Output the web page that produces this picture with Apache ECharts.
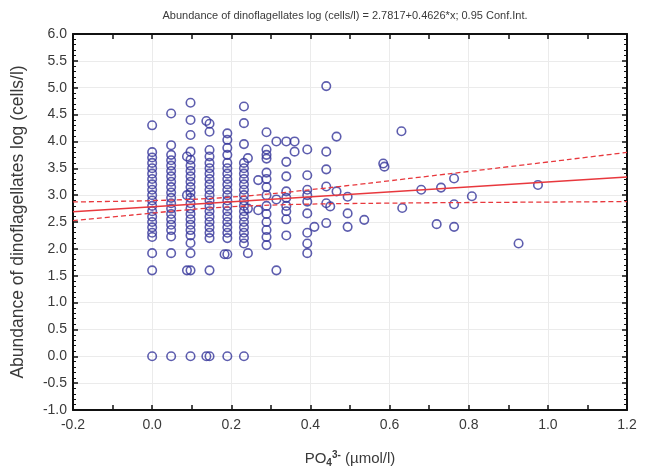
<!DOCTYPE html>
<html>
<head>
<meta charset="utf-8">
<script src="https://cdn.jsdelivr.net/npm/echarts@6/dist/echarts.min.js"></script>
<style>html,body{margin:0;padding:0;background:#fff}#c{width:647px;height:471px}</style>
</head>
<body>
<div id="c"></div>
<script>
// Columns of observations: x position (PO4 µmol/l) and log abundance values
const colX = [0.0, 0.048, 0.097, 0.145, 0.19, 0.232, 0.289, 0.339, 0.392, 0.44];
const colY = [
  [4.3, 3.8, 3.7, 3.6, 3.5, 3.4, 3.3, 3.2, 3.1, 3.0, 2.9, 2.8, 2.7, 2.6, 2.5, 2.4, 2.3, 2.22, 1.92, 1.6, 0],
  [4.52, 3.93, 3.75, 3.65, 3.55, 3.45, 3.35, 3.25, 3.15, 3.05, 2.95, 2.85, 2.75, 2.65, 2.55, 2.45, 2.35, 2.23, 1.92, 0],
  [4.72, 4.4, 4.12, 3.81, 3.66, 3.55, 3.45, 3.35, 3.25, 3.15, 3.05, 2.95, 2.85, 2.75, 2.65, 2.55, 2.45, 2.35, 2.25, 2.11, 1.92, 1.6, 0],
  [4.33, 4.18, 3.84, 3.72, 3.6, 3.5, 3.4, 3.3, 3.2, 3.1, 3.0, 2.9, 2.8, 2.7, 2.6, 2.5, 2.4, 2.3, 2.2, 1.6, 0],
  [4.15, 4.03, 3.88, 3.75, 3.6, 3.5, 3.4, 3.3, 3.2, 3.1, 3.0, 2.9, 2.8, 2.7, 2.6, 2.5, 2.4, 2.3, 2.2, 1.9, 0],
  [4.65, 4.34, 3.95, 3.6, 3.5, 3.4, 3.3, 3.2, 3.1, 3.0, 2.9, 2.8, 2.7, 2.6, 2.5, 2.4, 2.3, 2.2, 2.1, 0],
  [4.17, 3.85, 3.75, 3.68, 3.42, 3.3, 3.15, 3.0, 2.8, 2.65, 2.5, 2.35, 2.22, 2.07],
  [4.0, 3.62, 3.35, 3.07, 2.95, 2.8, 2.7, 2.55, 2.25],
  [3.85, 3.37, 3.1, 3.0, 2.88, 2.66, 2.3, 2.1, 1.92],
  [5.03, 3.81, 3.48, 3.16, 2.85, 2.48]
];
// Scattered single observations
const extraX = [0.088, 0.088, 0.088, 0.137, 0.137, 0.183, 0.242, 0.242, 0.242, 0.268, 0.268, 0.314, 0.314, 0.314, 0.36, 0.36, 0.41, 0.45, 0.466, 0.466, 0.494, 0.494, 0.494, 0.536, 0.584, 0.587, 0.63, 0.632, 0.68, 0.719, 0.73, 0.763, 0.763, 0.763, 0.808, 0.926, 0.975];
const extraY = [3.72, 3.0, 1.6, 4.38, 0, 1.9, 3.69, 2.75, 1.92, 3.28, 2.72, 4.0, 2.92, 1.6, 4.0, 3.81, 2.41, 2.79, 4.09, 3.07, 2.97, 2.66, 2.41, 2.54, 3.59, 3.53, 4.19, 2.76, 3.1, 2.46, 3.14, 3.31, 2.83, 2.41, 2.98, 2.1, 3.19];
// Regression line y = 2.7817 + 0.4626x at the axis ends
const fitX = [-0.2, 1.2];
const fitY = [2.689, 3.337];
// 0.95 confidence band
const bandX = [-0.2, -0.1, 0, 0.1, 0.2, 0.3, 0.4, 0.5, 0.6, 0.7, 0.8, 0.9, 1.0, 1.1, 1.2];
const bandUpper = [2.873, 2.884, 2.898, 2.922, 2.964, 3.026, 3.101, 3.182, 3.267, 3.354, 3.441, 3.529, 3.617, 3.706, 3.795];
const bandLower = [2.525, 2.595, 2.666, 2.734, 2.784, 2.814, 2.833, 2.844, 2.851, 2.858, 2.863, 2.867, 2.871, 2.876, 2.879];
// Tick labels
const xTicks = ['-0.2', '0.0', '0.2', '0.4', '0.6', '0.8', '1.0', '1.2'];

const points = [];
colX.forEach((x, i) => colY[i].forEach(y => points.push([x, y])));
extraX.forEach((x, i) => points.push([x, extraY[i]]));

const FONT = 'Liberation Sans, Arial, sans-serif';
const TXT = '#3a3a3a';
const frameLine = { show: true, onZero: false, lineStyle: { color: '#111', width: 2 } };
const gridSplit = { show: true, lineStyle: { color: '#ebebeb', width: 1 } };

const chart = echarts.init(document.getElementById('c'), null, { renderer: 'canvas' });
chart.setOption({
  animation: false,
  backgroundColor: '#fff',
  title: {
    text: 'Abundance of dinoflagellates log (cells/l) = 2.7817+0.4626*x; 0.95 Conf.Int.',
    left: 340, top: 5, textAlign: 'center',
    textStyle: { fontFamily: FONT, fontSize: 11, fontWeight: 'normal', color: TXT }
  },
  grid: { left: 73, right: 20, top: 34, bottom: 61, outerBoundsMode: 'none', containLabel: false },
  xAxis: [{
    type: 'value', min: -0.2, max: 1.2, interval: 0.2, position: 'bottom',
    axisLine: frameLine,
    axisTick: { show: true, inside: true, length: 5, lineStyle: { color: '#111', width: 1.5 } },
    minorTick: { show: true, splitNumber: 2, length: 5, lineStyle: { color: '#111', width: 1.5 } },
    splitLine: gridSplit,
    axisLabel: { fontFamily: FONT, fontSize: 14, color: TXT, margin: 8,
      formatter: v => xTicks[Math.round((v + 0.2) / 0.2)] },
    name: '{n|PO}{sub|4}{sup|3-}{n| (µmol/l)}',
    nameLocation: 'middle', nameGap: 40,
    nameTextStyle: { rich: {
      n: { fontFamily: FONT, fontSize: 15, color: TXT },
      sub: { fontFamily: FONT, fontSize: 10, color: TXT, fontWeight: 'bold', verticalAlign: 'bottom', padding: [8, 0, 0, 0] },
      sup: { fontFamily: FONT, fontSize: 10, color: TXT, fontWeight: 'bold', verticalAlign: 'top', padding: [0, 0, 8, 0] }
    } }
  }, {
    type: 'value', min: -0.2, max: 1.2, interval: 0.2, position: 'top',
    axisLine: frameLine,
    axisTick: { show: true, inside: true, length: 5, lineStyle: { color: '#111', width: 1.5 } },
    minorTick: { show: true, splitNumber: 2, length: 5, lineStyle: { color: '#111', width: 1.5 } },
    splitLine: { show: false }, axisLabel: { show: false }
  }],
  yAxis: [{
    type: 'value', min: -1, max: 6, interval: 0.5, position: 'left',
    axisLine: frameLine,
    axisTick: { show: true, inside: true, length: 5, lineStyle: { color: '#111', width: 1.5 } },
    minorTick: { show: true, splitNumber: 5, length: 3, lineStyle: { color: '#111', width: 1 } },
    splitLine: gridSplit,
    axisLabel: { fontFamily: FONT, fontSize: 14, color: TXT, margin: 6, formatter: v => v.toFixed(1) },
    name: 'Abundance of dinoflagellates log (cells/l)',
    nameLocation: 'middle', nameGap: 46,
    nameTextStyle: { fontFamily: FONT, fontSize: 17.5, color: TXT }
  }, {
    type: 'value', min: -1, max: 6, interval: 0.5, position: 'right',
    axisLine: frameLine,
    axisTick: { show: true, inside: true, length: 5, lineStyle: { color: '#111', width: 1.5 } },
    minorTick: { show: true, splitNumber: 5, length: 3, lineStyle: { color: '#111', width: 1 } },
    splitLine: { show: false }, axisLabel: { show: false }
  }],
  series: [{
    type: 'scatter', xAxisIndex: 0, yAxisIndex: 0,
    symbol: 'circle', symbolSize: 8.5,
    itemStyle: { color: 'rgba(255,255,255,0)', borderColor: '#35359a', borderWidth: 1.6 },
    data: points, z: 3
  }, {
    type: 'line', xAxisIndex: 0, yAxisIndex: 0, showSymbol: false,
    lineStyle: { color: '#e8383d', width: 1.5 },
    data: fitX.map((x, i) => [x, fitY[i]]), z: 4
  }, {
    type: 'line', xAxisIndex: 0, yAxisIndex: 0, showSymbol: false, smooth: true,
    lineStyle: { color: '#e8383d', width: 1.3, type: [5, 3] },
    data: bandX.map((x, i) => [x, bandUpper[i]]), z: 4
  }, {
    type: 'line', xAxisIndex: 0, yAxisIndex: 0, showSymbol: false, smooth: true,
    lineStyle: { color: '#e8383d', width: 1.3, type: [5, 3] },
    data: bandX.map((x, i) => [x, bandLower[i]]), z: 4
  }]
});
</script>
</body>
</html>
